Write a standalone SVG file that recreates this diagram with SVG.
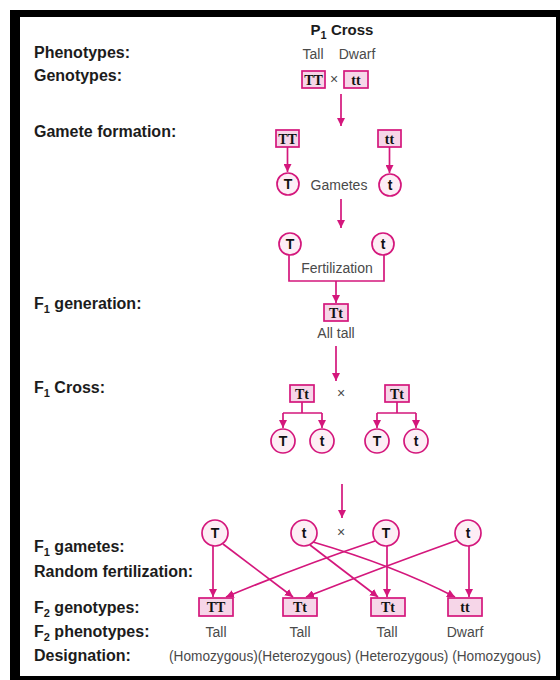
<svg xmlns="http://www.w3.org/2000/svg" width="560" height="680" viewBox="0 0 560 680">
<defs>
<style>
.lbl{font-family:"Liberation Sans",Arial,sans-serif;font-weight:bold;font-size:16px;fill:#1c1c1c}
.sub{font-size:11px}
.txt{font-family:"Liberation Sans",Arial,sans-serif;font-size:14px;fill:#4a4a4a}
.mid{text-anchor:middle}
.box{fill:#f6d6e8;stroke:#d4177c;stroke-width:1.7}
.cir{fill:#fdeef5;stroke:#d4177c;stroke-width:1.7}
.ln{stroke:#d4177c;stroke-width:1.7;fill:none}
.arr{marker-end:url(#ah)}
.g{font-family:"Liberation Serif",serif;font-weight:bold;font-size:14px;fill:#111;text-anchor:middle}
.c{font-family:"Liberation Sans",Arial,sans-serif;font-weight:bold;font-size:14px;fill:#111;text-anchor:middle}
</style>
<marker id="ah" viewBox="0 0 10 10" refX="10" refY="5" markerWidth="8" markerHeight="8" markerUnits="userSpaceOnUse" orient="auto"><path d="M0,0 L10,5 L0,10 z" fill="#d4177c"/></marker>
</defs>
<rect x="0" y="0" width="560" height="680" fill="#fff"/>
<rect x="10" y="10" width="550" height="670" fill="#000"/>
<rect x="20" y="17" width="536" height="659" fill="#fff"/>

<g id="labels">
<text class="lbl" x="34" y="58">Phenotypes:</text>
<text class="lbl" x="34" y="81">Genotypes:</text>
<text class="lbl" x="34" y="137">Gamete formation:</text>
<text class="lbl" x="34" y="309">F<tspan class="sub" dy="4">1</tspan><tspan dy="-4"> generation:</tspan></text>
<text class="lbl" x="34" y="393">F<tspan class="sub" dy="4">1</tspan><tspan dy="-4"> Cross:</tspan></text>
<text class="lbl" x="34" y="552">F<tspan class="sub" dy="4">1</tspan><tspan dy="-4"> gametes:</tspan></text>
<text class="lbl" x="34" y="577">Random fertilization:</text>
<text class="lbl" x="34" y="613">F<tspan class="sub" dy="4">2</tspan><tspan dy="-4"> genotypes:</tspan></text>
<text class="lbl" x="34" y="637">F<tspan class="sub" dy="4">2</tspan><tspan dy="-4"> phenotypes:</tspan></text>
<text class="lbl" x="34" y="661">Designation:</text>
</g>

<g id="p1-title">
<text class="lbl mid" x="342" y="35" style="font-size:15px">P<tspan class="sub" dy="4">1</tspan><tspan dy="-4"> Cross</tspan></text>
<text class="txt mid" x="313" y="59">Tall</text>
<text class="txt mid" x="357" y="59">Dwarf</text>
</g>

<g id="connectors">
<path class="ln arr" d="M341,94 L341,126"/>
<path class="ln arr" d="M287.5,147 L287.5,172"/>
<path class="ln arr" d="M389.5,147 L389.5,173"/>
<path class="ln arr" d="M341,199 L341,228"/>
<path class="ln" d="M289,255 L289,281 L384,281 L384,255"/>
<path class="ln arr" d="M336,281 L336,303"/>
<path class="ln arr" d="M336,346 L336,381"/>
<path class="ln" d="M302,402 L302,413 M283,413 L322,413"/>
<path class="ln arr" d="M283,413 L283,428"/>
<path class="ln arr" d="M322,413 L322,428"/>
<path class="ln" d="M397,402 L397,413 M377,413 L416,413"/>
<path class="ln arr" d="M377,413 L377,428"/>
<path class="ln arr" d="M416,413 L416,428"/>
<path class="ln arr" d="M342,484 L342,518"/>
<path class="ln arr" d="M213,546 L213,597"/>
<path class="ln arr" d="M223,544 L293,597"/>
<path class="ln arr" d="M310,545 L378,597"/>
<path class="ln arr" d="M313,542 Q395,566 455,597"/>
<path class="ln arr" d="M375,541 Q300,566 226,597"/>
<path class="ln arr" d="M387,546 L387,597"/>
<path class="ln arr" d="M458,540 Q380,568 306,597"/>
<path class="ln arr" d="M469,546 L469,597"/>
</g>

<g id="p-TT"><rect class="box" x="302" y="71" width="23" height="17"/><text class="g" x="313.5" y="84.5">TT</text></g>
<text class="txt mid" x="334" y="84">×</text>
<g id="p-tt"><rect class="box" x="344" y="71" width="24" height="17"/><text class="g" x="356" y="84.5">tt</text></g>

<g id="gf-TT"><rect class="box" x="276" y="130" width="23" height="17"/><text class="g" x="287.5" y="143.5">TT</text></g>
<g id="gf-tt"><rect class="box" x="378" y="130" width="23" height="17"/><text class="g" x="389.5" y="143.5">tt</text></g>
<g id="gam-T"><circle class="cir" cx="288" cy="184" r="11"/><text class="c" x="288" y="189">T</text></g>
<text class="txt mid" x="339" y="190">Gametes</text>
<g id="gam-t"><circle class="cir" cx="390" cy="185" r="11"/><text class="c" x="390" y="190">t</text></g>

<g id="fert-T"><circle class="cir" cx="290" cy="244" r="11"/><text class="c" x="290" y="249">T</text></g>
<g id="fert-t"><circle class="cir" cx="383" cy="244" r="11"/><text class="c" x="383" y="249">t</text></g>
<text class="txt mid" x="337" y="273">Fertilization</text>

<g id="f1-Tt"><rect class="box" x="324" y="304" width="24" height="17"/><text class="g" x="336" y="317.5">Tt</text><text class="txt mid" x="336" y="338">All tall</text></g>

<g id="f1c-Tt-left"><rect class="box" x="290" y="385" width="24" height="17"/><text class="g" x="302" y="398.5">Tt</text></g>
<text class="txt mid" x="341" y="398">×</text>
<g id="f1c-Tt-right"><rect class="box" x="385" y="385" width="24" height="17"/><text class="g" x="397" y="398.5">Tt</text></g>
<g id="f1c-T1"><circle class="cir" cx="283" cy="441" r="12"/><text class="c" x="283" y="446">T</text></g>
<g id="f1c-t1"><circle class="cir" cx="322" cy="441" r="12"/><text class="c" x="322" y="446">t</text></g>
<g id="f1c-T2"><circle class="cir" cx="377" cy="441" r="12"/><text class="c" x="377" y="446">T</text></g>
<g id="f1c-t2"><circle class="cir" cx="416" cy="441" r="12"/><text class="c" x="416" y="446">t</text></g>

<g id="g-T1"><circle class="cir" cx="215" cy="533" r="13"/><text class="c" x="215" y="538">T</text></g>
<g id="g-t1"><circle class="cir" cx="304" cy="533" r="13"/><text class="c" x="304" y="538">t</text></g>
<text class="txt mid" x="341" y="537">×</text>
<g id="g-T2"><circle class="cir" cx="386" cy="533" r="13"/><text class="c" x="386" y="538">T</text></g>
<g id="g-t2"><circle class="cir" cx="468" cy="533" r="13"/><text class="c" x="468" y="538">t</text></g>

<g id="f2-TT"><rect class="box" x="199" y="598" width="34" height="18"/><text class="g" x="216" y="612">TT</text><text class="txt mid" x="216" y="637">Tall</text></g>
<g id="f2-Tt1"><rect class="box" x="283" y="598" width="34" height="18"/><text class="g" x="300" y="612">Tt</text><text class="txt mid" x="300" y="637">Tall</text></g>
<g id="f2-Tt2"><rect class="box" x="371" y="598" width="34" height="18"/><text class="g" x="388" y="612">Tt</text><text class="txt mid" x="387" y="637">Tall</text></g>
<g id="f2-tt"><rect class="box" x="448" y="598" width="34" height="18"/><text class="g" x="465" y="612">tt</text><text class="txt mid" x="465" y="637">Dwarf</text></g>
<text class="txt" x="169" y="661" textLength="372" lengthAdjust="spacingAndGlyphs">(Homozygous)(Heterozygous) (Heterozygous) (Homozygous)</text>
</svg>
